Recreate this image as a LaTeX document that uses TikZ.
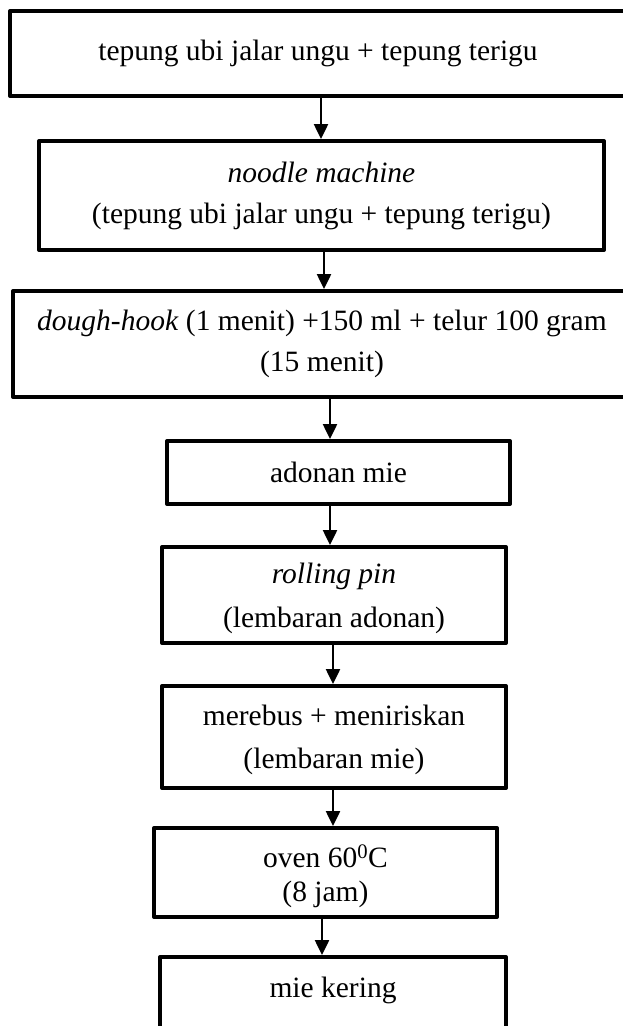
\documentclass[tikz,border=0pt]{standalone}
\usepackage{fontspec}
\setmainfont{Liberation Serif}
\usetikzlibrary{shapes.geometric, arrows.meta, positioning}
\tikzstyle{process} = [rectangle,
draw=black,
line width=4pt,
line join=round,
inner sep=0pt,
align=center,
font=\fontsize{29.5}{41}\selectfont]
\tikzstyle{arrow} = [line width=2.5pt,-{Triangle[width=14pt,length=15pt]}]

\begin{document}
\begin{tikzpicture}[x=1pt, y=-1pt]
                \clip (0,0) rectangle (623,1026);
                \node (flour) [process, minimum width=616pt, minimum height=85pt] at (318,53.5) {tepung ubi jalar ungu + tepung terigu};
                \node (machine) [process, minimum width=565pt, minimum height=109pt] at (321.5,195.5) {\textit{noodle machine}\\(tepung ubi jalar ungu + tepung terigu)};
                \node (hook) [process, minimum width=618pt, minimum height=106pt] at (322,344) {\textit{dough-hook} (1 menit) +150 ml + telur 100 gram\\(15 menit)};
                \node (dough) [process, minimum width=343pt, minimum height=63pt] at (338.5,472.5) {adonan mie};
                \node (rolling) [process, minimum width=344pt, minimum height=96pt, font=\fontsize{29.5}{44}\selectfont] at (334,595) {\rule{0pt}{28pt}\textit{rolling pin}\\(lembaran adonan)};
                \node (boil) [process, minimum width=344pt, minimum height=102pt, font=\fontsize{29.5}{43}\selectfont] at (334,737) {\rule{0pt}{26pt}merebus + meniriskan\\(lembaran mie)};
                \node (oven) [process, minimum width=343pt, minimum height=89pt, font=\fontsize{29.5}{34}\selectfont] at (325.5,872.5) {\rule{0pt}{31pt}oven 60\textsuperscript{0}C\\(8 jam)};
                \node (dry) [process, minimum width=346pt, minimum height=73pt, text depth=13pt] at (333,993.5) {mie kering};

                \draw [arrow] ([xshift=3pt]flour.south) -- ([xshift=-0.5pt]machine.north);
                \draw [arrow] ([xshift=2.5pt]machine.south) -- ([xshift=2pt]hook.north);
                \draw [arrow] ([xshift=8pt]hook.south) -- ([xshift=-8.5pt]dough.north);
                \draw [arrow] ([xshift=-8.5pt]dough.south) -- ([xshift=-4pt]rolling.north);
                \draw [arrow] ([xshift=-1pt]rolling.south) -- ([xshift=-1pt]boil.north);
                \draw [arrow] ([xshift=-1pt]boil.south) -- ([xshift=7.5pt]oven.north);
                \draw [arrow] ([xshift=-3.5pt]oven.south) -- ([xshift=-11pt]dry.north);
\end{tikzpicture}
\end{document}
